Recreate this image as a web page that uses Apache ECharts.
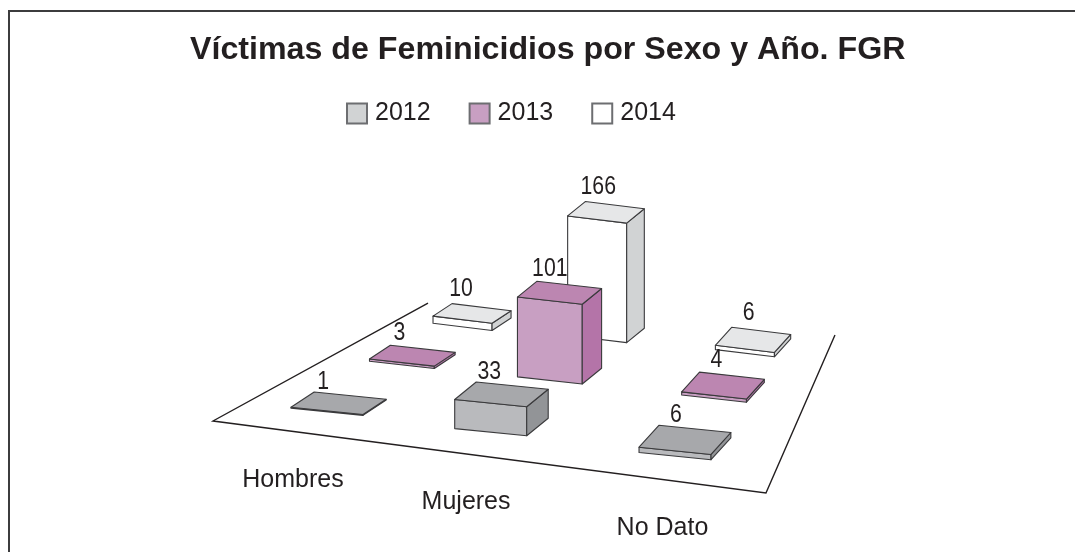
<!DOCTYPE html>
<html>
<head>
<meta charset="utf-8">
<style>
  html, body { margin: 0; background: #fff; }
  #main { width: 1075px; height: 552px; }
</style>
</head>
<body>
<div id="main"></div>
<script src="https://cdn.jsdelivr.net/npm/echarts@6/dist/echarts.min.js"></script>
<script>
const chartTitle = 'Víctimas de Feminicidios por Sexo y Año. FGR'
const categories = ['Hombres', 'Mujeres', 'No Dato']
const years = ['2012', '2013', '2014']
const values2012 = [1, 33, 6]
const values2013 = [3, 101, 4]
const values2014 = [10, 166, 6]

const W = 1075
const H = 552
const FONT = '"Liberation Sans", Arial, sans-serif'
const TEXT = '#231f20'
const EDGE = '#3a3a3c'

// faces per year: front, top, side
const faces = [
  { front: '#b9babd', top: '#a7a8ab', side: '#929497', legend: '#d1d3d4' },
  { front: '#c89fc2', top: '#bc86b1', side: '#b474a8', legend: '#c89fc2' },
  { front: '#ffffff', top: '#e6e7e8', side: '#d1d3d4', legend: '#ffffff' }
]
// rows get smaller towards the back
const rowDepth = [0.167, 0.51, 0.86]
const rowHeight = [0.88, 0.79, 0.72]
const rowSize = [1, 0.9, 0.82]

// floor plane: unit square -> screen, perspective (corners 213,421 766,493 835,335 428,303)
const floor = { a: 419.3, b: 381.2, c: 213, d: -14, e: -0.3, f: 421, g: -0.1745, h: 0.3883 }
function project(u, w) {
  const k = floor.g * u + floor.h * w + 1
  return [(floor.a * u + floor.b * w + floor.c) / k, (floor.d * u + floor.e * w + floor.f) / k]
}
function face(points, fill) {
  return {
    type: 'polygon',
    shape: { points },
    style: { fill, stroke: EDGE, lineWidth: 1.1, lineJoin: 'round' }
  }
}
function label(text, x, y, size, scaleX) {
  return {
    type: 'text',
    x,
    y,
    scaleX,
    style: {
      text,
      x: 0,
      y: 0,
      fill: TEXT,
      font: size + 'px ' + FONT,
      align: 'center',
      verticalAlign: 'middle'
    }
  }
}

function barRenderer(yearIndex) {
  return function (params, api) {
    const value = api.value(1)
    // x comes from the category axis, height from the value axis
    const u = api.coord([api.value(0), 0])[0] / W
    const h = api.size([0, value])[1] * rowHeight[yearIndex]
    const c = project(u, rowDepth[yearIndex])
    const s = rowSize[yearIndex]
    // half width and half depth of the footprint on screen
    const wx = 36 * s
    const wy = 3.6
    const dx = (24 - 5 * u) * s / 2
    const dy = -(15 + 10 * u * u) * s / 2
    const ox = c[0] + 4
    const oy = c[1]
    const fl = [ox - wx - dx, oy - wy - dy]
    const fr = [ox + wx - dx, oy + wy - dy]
    const br = [ox + wx + dx, oy + wy + dy]
    const bl = [ox - wx + dx, oy - wy + dy]
    const up = p => [p[0], p[1] - h]
    const color = faces[yearIndex]
    return {
      type: 'group',
      children: [
        face([fl, fr, up(fr), up(fl)], color.front),
        face([fr, br, up(br), up(fr)], color.side),
        face([up(fl), up(fr), up(br), up(bl)], color.top),
        label(String(value), bl[0] + 7 + 12 * u, bl[1] - h - 10 - 2 * yearIndex, 25, 0.85)
      ]
    }
  }
}

function barSeries(values, yearIndex) {
  return {
    name: years[yearIndex],
    type: 'custom',
    coordinateSystem: 'cartesian2d',
    renderItem: barRenderer(yearIndex),
    itemStyle: { color: faces[yearIndex].legend, borderColor: '#6d6e71', borderWidth: 1 },
    z: 5 - yearIndex,
    silent: true,
    data: values.map((v, i) => [i, v])
  }
}

// floor outline and the category names under its front edge
function floorRenderer(params, api) {
  const children = [{
    type: 'polyline',
    shape: { points: [project(0, 1), project(0, 0), project(1, 0), project(1, 1)] },
    style: { fill: 'none', stroke: '#231f20', lineWidth: 1.4 }
  }]
  categories.forEach((name, i) => {
    const u = api.coord([i, 0])[0] / W
    const p = project(u, 0)
    children.push(label(name, p[0] + 1 + 4 * u, p[1] + 49, 25, 1))
  })
  return { type: 'group', children }
}

const chart = echarts.init(document.getElementById('main'), null, { renderer: 'canvas' })
chart.setOption({
  animation: false,
  backgroundColor: '#fff',
  title: {
    text: chartTitle,
    left: 185,
    top: 29,
    textStyle: { fontFamily: FONT, fontSize: 32.2, fontWeight: 'bold', color: TEXT }
  },
  legend: {
    data: years,
    left: 341,
    top: 96,
    itemWidth: 20,
    itemHeight: 20,
    itemGap: 38,
    icon: 'rect',
    textStyle: { fontFamily: FONT, fontSize: 25, color: TEXT, padding: [0, 0, 0, 3] },
    selectedMode: false
  },
  grid: { left: 0, right: 0, top: 0, bottom: 0 },
  xAxis: { type: 'category', data: categories, show: false },
  yAxis: { type: 'value', min: 0, max: H, show: false },
  graphic: [{
    type: 'polyline',
    shape: { points: [[9, H], [9, 11], [W, 11]] },
    style: { fill: 'none', stroke: '#3c3c3e', lineWidth: 2 },
    silent: true
  }],
  series: [
    { type: 'custom', renderItem: floorRenderer, z: 1, silent: true, data: [[0, 0]] },
    barSeries(values2012, 0),
    barSeries(values2013, 1),
    barSeries(values2014, 2)
  ]
})
</script>
</body>
</html>
